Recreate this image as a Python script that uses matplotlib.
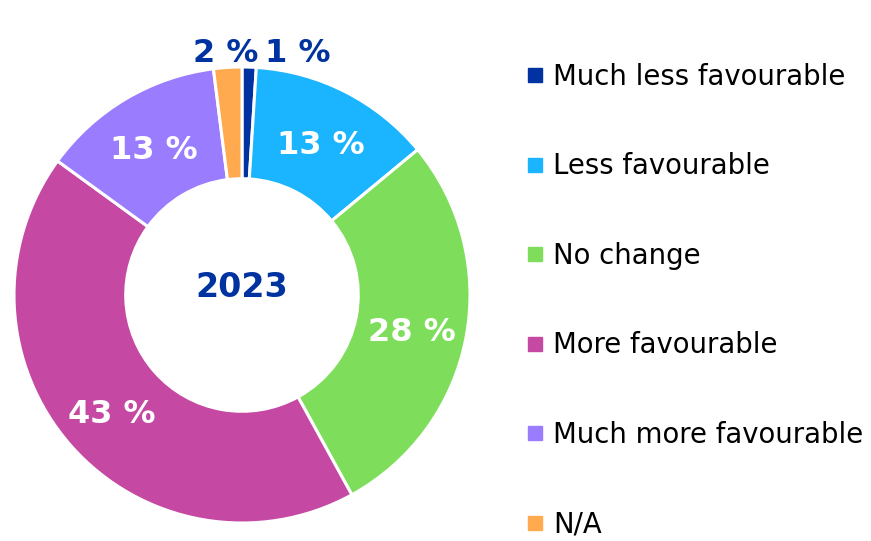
import numpy as np
import matplotlib
matplotlib.use("Agg")
import matplotlib.pyplot as plt
from matplotlib.lines import Line2D

categories = ["Much less favourable", "Less favourable", "No change",
              "More favourable", "Much more favourable", "N/A"]
shares = [1, 13, 28, 43, 13, 2]
colors = ["#0033A1", "#1AB4FF", "#7FDD5C", "#C549A2", "#9A7CFF", "#FFAA4F"]
year = "2023"

DARK = "#0033A0"
plt.rcParams['font.family'] = ['DejaVu Sans']

fig = plt.figure(figsize=(8.71, 5.41), dpi=100)
# pie axes: centre ~ (242, 295) px, radius ~228 px
ax = fig.add_axes([14 / 871, 18 / 541, 456 / 871, 456 / 541])

wedges, _ = ax.pie(shares, colors=colors, startangle=90, counterclock=False,
                   radius=1.0,
                   wedgeprops=dict(width=0.49, edgecolor="white", linewidth=2.2))
ax.set_xlim(-1, 1)
ax.set_ylim(-1, 1)
ax.set_aspect("equal")
ax.axis("off")

# percentage labels
for w, v in zip(wedges, shares):
    mid = np.deg2rad((w.theta1 + w.theta2) / 2)
    if v >= 5:
        r = 0.76
        ax.text(r * np.cos(mid), r * np.sin(mid) - 0.02, f"{v} %", ha="center",
                va="center", color="white", fontsize=23, fontweight="bold")

# small slices: labels above the ring
small = {1: ("left", 0.10), 2: ("right", 0.07)}
for v in shares:
    if v in small:
        ha, x = small[v]
        ax.text(x, 1.06, f"{v} %", ha=ha, va="center", color=DARK,
                fontsize=23, fontweight="bold", clip_on=False)

ax.text(0, 0.035, year, ha="center", va="center", color=DARK,
        fontsize=24, fontweight="bold")

handles = [Line2D([], [], marker="s", linestyle="none", markersize=10,
                  markerfacecolor=c, markeredgecolor=c) for c in colors]
fig.legend(handles, categories, loc="upper left",
           bbox_to_anchor=(527 / 871, 1 - 63 / 541), frameon=False,
           fontsize=19.8, handlelength=0.6, handletextpad=0.35,
           labelspacing=2.235, borderaxespad=0, borderpad=0)

fig.savefig("out.png", dpi=100)
